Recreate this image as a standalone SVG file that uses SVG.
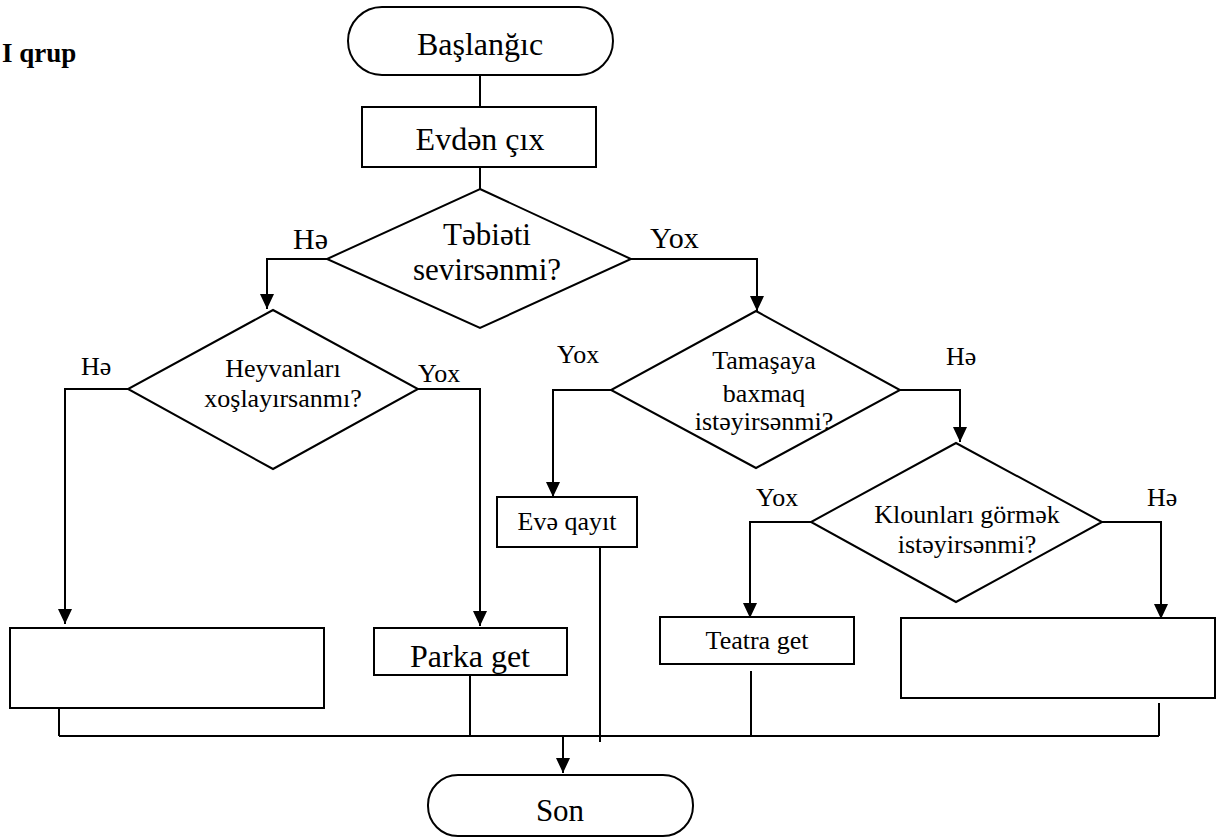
<svg xmlns="http://www.w3.org/2000/svg" width="1222" height="840" viewBox="0 0 1222 840">
<style>
  .shape { fill: #ffffff; stroke: #000000; stroke-width: 2; }
  .line { fill: none; stroke: #000000; stroke-width: 2; }
  .arrow { fill: none; stroke: #000000; stroke-width: 2; marker-end: url(#ah); }
  text { font-family: "Liberation Serif", "Times New Roman", serif; fill: #000000; }
  .c { text-anchor: middle; }
  .s26 { font-size: 26px; }
  .s31 { font-size: 31px; }
  .s32 { font-size: 32px; }
</style>
<defs>
  <marker id="ah" markerUnits="userSpaceOnUse" markerWidth="15" markerHeight="14" refX="15" refY="7" orient="auto">
    <path d="M0,0 L15,7 L0,14 z" fill="#000000"/>
  </marker>
</defs>
<rect width="1222" height="840" fill="#ffffff"/>

<text x="2" y="62" font-size="27" font-weight="bold">I qrup</text>

<g id="connectors">
  <path class="line" d="M480,75 V107"/>
  <path class="line" d="M480,167 V189"/>
  <path class="arrow" d="M327,259 H267 V309"/>
  <path class="arrow" d="M631,259 H757 V311"/>
  <path class="arrow" d="M128,389 H65 V624"/>
  <path class="arrow" d="M418,389 H480 V626"/>
  <path class="arrow" d="M611,390 H553 V497"/>
  <path class="arrow" d="M900,390 H960 V442"/>
  <path class="arrow" d="M811,522 H750 V618"/>
  <path class="arrow" d="M1102,522 H1161 V619"/>
  <path class="line" d="M59,708 V736"/>
  <path class="line" d="M470,675 V736"/>
  <path class="line" d="M600,547 V742"/>
  <path class="line" d="M751,671 V736"/>
  <path class="line" d="M1159,703 V736"/>
  <path class="line" d="M59,736 H1159"/>
  <path class="arrow" d="M563,736 V773"/>
</g>

<g id="start">
  <rect class="shape" x="348" y="7" width="265" height="68" rx="34" ry="34"/>
  <text class="c s32" x="480" y="55">Başlanğıc</text>
</g>

<g id="leave-home">
  <rect class="shape" x="362" y="107" width="234" height="60"/>
  <text class="c s32" x="480" y="150">Evdən çıx</text>
</g>

<g id="decision-nature">
  <polygon class="shape" points="480,189 631,259 480,328 327,259"/>
  <text class="c s31" x="487" y="245">Təbiəti</text>
  <text class="c s31" x="487" y="280">sevirsənmi?</text>
  <text x="293" y="249" font-size="30">Hə</text>
  <text x="650" y="248" font-size="30">Yox</text>
</g>

<g id="decision-animals">
  <polygon class="shape" points="273,310 418,389 273,469 128,389"/>
  <text class="c s26" x="283" y="377">Heyvanları</text>
  <text class="c s26" x="283" y="407">xoşlayırsanmı?</text>
  <text class="s26" x="81" y="375">Hə</text>
  <text class="s26" x="418" y="382">Yox</text>
</g>

<g id="decision-show">
  <polygon class="shape" points="756,311 900,390 756,468 611,390"/>
  <text class="c s26" x="764" y="369">Tamaşaya</text>
  <text class="c s26" x="764" y="402">baxmaq</text>
  <text class="c s26" x="764" y="430">istəyirsənmi?</text>
  <text class="s26" x="557" y="363">Yox</text>
  <text class="s26" x="946" y="365">Hə</text>
</g>

<g id="decision-clowns">
  <polygon class="shape" points="956,443 1102,522 956,602 811,522"/>
  <text class="c s26" x="967" y="523">Klounları görmək</text>
  <text class="c s26" x="967" y="553">istəyirsənmi?</text>
  <text class="s26" x="756" y="506">Yox</text>
  <text class="s26" x="1147" y="506">Hə</text>
</g>

<g id="box-empty-left">
  <rect class="shape" x="10" y="628" width="314" height="80"/>
</g>

<g id="go-park">
  <rect class="shape" x="374" y="628" width="193" height="47"/>
  <text class="c s32" x="470" y="667">Parka get</text>
</g>

<g id="go-home">
  <rect class="shape" x="497" y="497" width="140" height="50"/>
  <text class="c s26" x="567" y="530">Evə qayıt</text>
</g>

<g id="go-theatre">
  <rect class="shape" x="660" y="617" width="194" height="47"/>
  <text class="c s26" x="757" y="649">Teatra get</text>
</g>

<g id="box-empty-right">
  <rect class="shape" x="901" y="618" width="314" height="80"/>
</g>

<g id="end">
  <rect class="shape" x="428" y="775" width="265" height="61" rx="30" ry="30"/>
  <text class="c s31" x="560" y="821">Son</text>
</g>
</svg>
